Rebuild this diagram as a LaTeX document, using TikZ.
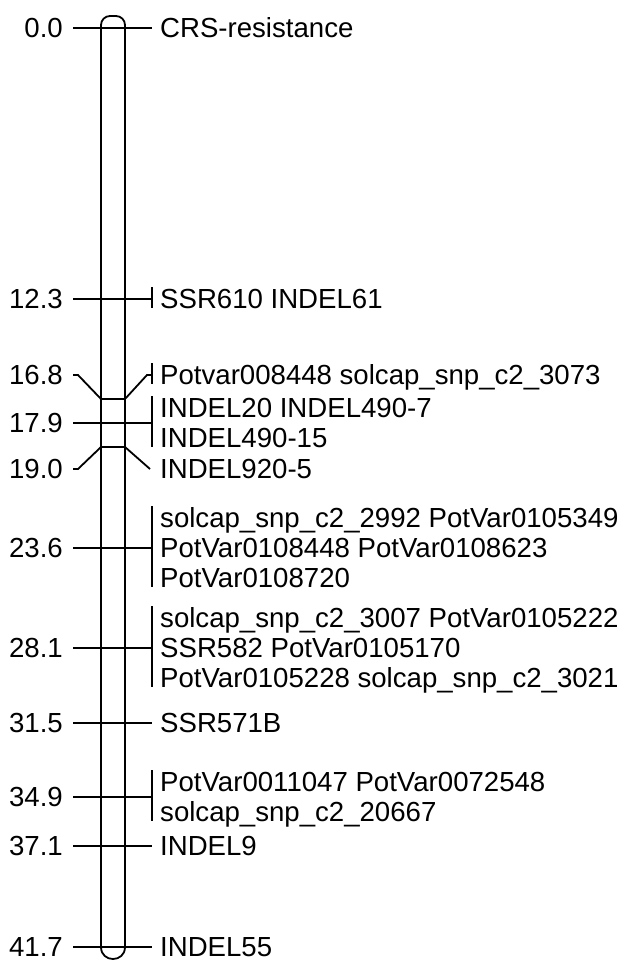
\documentclass[tikz,border=0pt]{standalone}
\usepackage{fontspec}
\setmainfont{Liberation Sans}
\newcommand\mapfont{\fontsize{27.6}{30}\selectfont}
\begin{document}
\begin{tikzpicture}[x=1pt,y=-1pt,
  chrom/.style={line width=1.8pt, line join=round},
  tickline/.style={line width=1.8pt, line join=miter},
  cmlabel/.style={anchor=base east, inner sep=0pt, font=\mapfont},
  mklabel/.style={anchor=base west, inner sep=0pt, font=\mapfont}]
\useasboundingbox (0,0) rectangle (630,961);

% chromosome body with rounded ends
\draw[chrom, rounded corners=9pt] (101,947) -- (101,16) -- (125,16) -- (125,947);
\draw[chrom] (101,947) .. controls (101,963) and (125,963) .. (125,947);

% straight ticks: left end, right end
\foreach \nm/\yy in {a/28, b/299, d/423, f/548, g/648, h/723, i/797, j/846, k/947}{
  \coordinate (\nm l) at (73,\yy);
  \coordinate (\nm r) at (152,\yy);
  \draw[tickline] (\nm l) -- (\nm r);
}

% 16.8 : offset upwards
\coordinate (cbl) at (101,399);
\coordinate (cbr) at (125,399);
\coordinate (cll) at (73,375);
\coordinate (clk) at (78,375);
\coordinate (crk) at (147,375);
\coordinate (crr) at (152,375);
\draw[tickline] (cbl) -- (cbr);
\draw[tickline] (cll) -- (clk) -- (cbl);
\draw[tickline] (cbr) -- (crk) -- (crr);

% 19.0 : offset downwards
\coordinate (ebl) at (101,447);
\coordinate (ebr) at (125,447);
\coordinate (ell) at (73,469);
\coordinate (elk) at (78,469);
\coordinate (err) at (150,469);
\draw[tickline] (ebl) -- (ebr);
\draw[tickline] (ell) -- (elk) -- (ebl);
\draw[tickline] (ebr) -- (err);

% brackets for groups of markers at one position
\foreach \top/\bot in {287/308, 363/384, 396/447, 506/587, 606/687, 770/821}{
  \draw[tickline] (152,\top) -- (152,\bot);
}

% positions (cM)
\node[cmlabel] (p00) at (63,{28+9.9}) {0.0};
\node[cmlabel] (p12) at (63,{299+9.9}) {12.3};
\node[cmlabel] (p16) at (63,{375+9.9}) {16.8};
\node[cmlabel] (p17) at (63,{423+9.9}) {17.9};
\node[cmlabel] (p19) at (63,{469+9.9}) {19.0};
\node[cmlabel] (p23) at (63,{548+9.9}) {23.6};
\node[cmlabel] (p28) at (63,{648+9.9}) {28.1};
\node[cmlabel] (p31) at (63,{723+9.9}) {31.5};
\node[cmlabel] (p34) at (63,{797+9.9}) {34.9};
\node[cmlabel] (p37) at (63,{846+9.9}) {37.1};
\node[cmlabel] (p41) at (63,{947+9.6}) {41.7};

% marker names
\node[mklabel] (m00) at (160,{28+9.9}) {CRS-resistance};
\node[mklabel] (m12) at (160,{299+9.9}) {SSR610 INDEL61};
\node[mklabel] (m16) at (160,{375+9.9}) {Potvar008448 solcap\_snp\_c2\_3073};
\node[mklabel] (m17a) at (160,{408+9.9}) {INDEL20 INDEL490-7};
\node[mklabel] (m17b) at (160,{438+9.9}) {INDEL490-15};
\node[mklabel] (m19) at (160,{469+9.9}) {INDEL920-5};
\node[mklabel] (m23a) at (160,{518+9.9}) {solcap\_snp\_c2\_2992 PotVar0105349};
\node[mklabel] (m23b) at (160,{548+9.9}) {PotVar0108448 PotVar0108623};
\node[mklabel] (m23c) at (160,{578+9.9}) {PotVar0108720};
\node[mklabel] (m28a) at (160,{618+9.9}) {solcap\_snp\_c2\_3007 PotVar0105222};
\node[mklabel] (m28b) at (160,{648+9.9}) {SSR582 PotVar0105170};
\node[mklabel] (m28c) at (160,{678+9.9}) {PotVar0105228 solcap\_snp\_c2\_3021};
\node[mklabel] (m31) at (160,{723+9.9}) {SSR571B};
\node[mklabel] (m34a) at (160,{782+9.9}) {PotVar0011047 PotVar0072548};
\node[mklabel] (m34b) at (160,{812+9.9}) {solcap\_snp\_c2\_20667};
\node[mklabel] (m37) at (160,{846+9.9}) {INDEL9};
\node[mklabel] (m41) at (160,{947+9.6}) {INDEL55};
\end{tikzpicture}
\end{document}
